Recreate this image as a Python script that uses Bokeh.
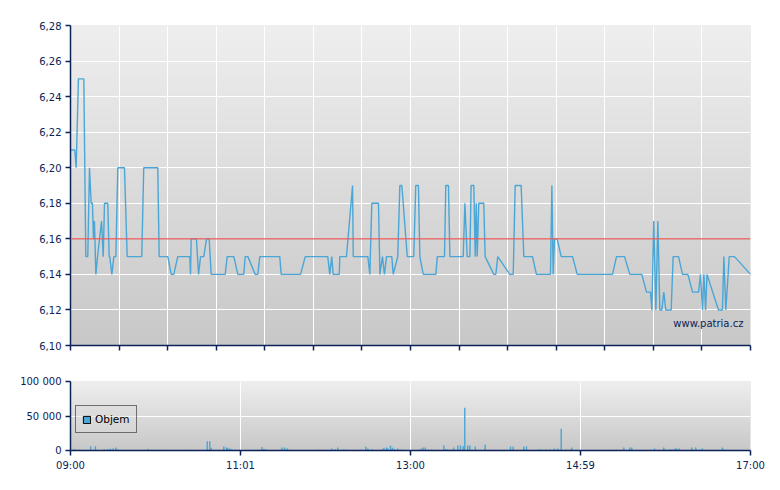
import numpy as np
from bokeh.plotting import figure
from bokeh.models import Range1d, FixedTicker, Span, Label, Legend, LegendItem
from bokeh.layouts import column
from bokeh.embed import file_html
from bokeh.resources import INLINE

# ---- data (minutes after 09:00) ----
price_minute = [0, 3, 4, 5.6, 9.4, 10.8, 12.2, 13.4, 14.6, 15.5, 16.2, 16.9, 17.9, 19.1, 21.9, 23.1,
                24.0, 26.3, 27.3, 27.7, 29.2, 30.6, 32.0, 33.4, 38.1, 40.0, 50.3, 51.7, 61.6, 62.6,
                68.7, 71.1, 72.9, 75.7, 84.2, 84.7, 85.2, 88.9, 90.4, 91.8, 94.1, 96.0, 97.9, 99.3,
                109.2, 110.6, 115.3, 118.1, 122.3, 123.3, 125.2, 130.4, 132.2, 133.6, 147.7, 148.7,
                162.4, 165.7, 181.6, 183.0, 184.4, 185.4, 189.7, 190.1, 194.8, 199.1, 199.6, 209.9,
                211.3, 212.7, 217.4, 218.4, 220.2, 221.6, 223.1, 226.8, 227.8, 231.0, 232.5, 233.9,
                237.7, 242.3, 243.7, 245.6, 246.6, 249.0, 257.9, 258.9, 264.0, 264.9, 266.8, 267.8,
                277.2, 278.4, 280.0, 281.9, 282.8, 284.7, 285.7, 286.4, 287.1, 288.2, 291.7, 292.7,
                298.8, 300.2, 301.6, 310.1, 312.5, 313.9, 318.1, 320.0, 326.1, 328.9, 338.8, 339.8,
                340.7, 341.6, 343.5, 346.4, 354.4, 357.7, 382.6, 385.4, 391.1, 394.8, 403.3, 406.6,
                409.4, 410.4, 411.7, 413.2, 414.6, 416.0, 417.4, 418.8, 420.2, 424.0, 425.4, 429.2,
                432.0, 435.8, 439.1, 443.3, 444.7, 446.1, 447.1, 448.3, 449.3, 457.4, 460.2, 461.2,
                462.6, 465.0, 468.7, 480.0]
price_value = [6.21, 6.21, 6.20, 6.25, 6.25, 6.15, 6.15, 6.20, 6.18, 6.18, 6.16, 6.17, 6.14, 6.15, 6.17, 6.15,
               6.18, 6.18, 6.15, 6.15, 6.14, 6.15, 6.15, 6.20, 6.20, 6.15, 6.15, 6.20, 6.20, 6.15,
               6.15, 6.14, 6.14, 6.15, 6.15, 6.14, 6.16, 6.16, 6.14, 6.15, 6.15, 6.16, 6.16, 6.14,
               6.14, 6.15, 6.15, 6.14, 6.14, 6.15, 6.15, 6.14, 6.14, 6.15, 6.15, 6.14,
               6.14, 6.15, 6.15, 6.14, 6.15, 6.14, 6.14, 6.15, 6.15, 6.19, 6.15, 6.15,
               6.14, 6.18, 6.18, 6.14, 6.15, 6.14, 6.15, 6.15, 6.14, 6.15, 6.19, 6.19,
               6.15, 6.15, 6.19, 6.19, 6.15, 6.14, 6.14, 6.15, 6.15, 6.19, 6.19, 6.15,
               6.15, 6.18, 6.15, 6.15, 6.19, 6.19, 6.15, 6.18, 6.15, 6.18, 6.18, 6.15,
               6.14, 6.14, 6.15, 6.14, 6.14, 6.19, 6.19, 6.15, 6.15, 6.14, 6.14, 6.19,
               6.14, 6.16, 6.16, 6.15, 6.15, 6.14, 6.14, 6.15, 6.15, 6.14, 6.14, 6.13,
               6.13, 6.12, 6.17, 6.12, 6.17, 6.12, 6.12, 6.13, 6.12, 6.12, 6.15, 6.15,
               6.14, 6.14, 6.13, 6.13, 6.14, 6.12, 6.14, 6.12, 6.14, 6.12, 6.12, 6.15,
               6.12, 6.15, 6.15, 6.14]

vol_minute = [2.1, 3.5, 6.4, 14.3, 17.6, 24.0, 26.3, 28.2, 30.1, 32.0, 33.4, 54.6, 56.5, 61.6, 68.7,
              83.8, 96.5, 98.3, 99.3, 108.2, 110.1, 111.0, 112.4, 113.9, 116.3, 119.1, 121.9, 129.9,
              132.2, 135.0, 136.4, 137.9, 149.2, 151.1, 153.0, 154.4, 163.3, 175.1, 179.8, 184.4,
              186.8, 188.7, 192.9, 194.8, 200.5, 204.7, 208.4, 209.9, 212.7, 219.7, 221.2, 223.1,
              224.0, 225.9, 227.3, 228.7, 231.0, 233.9, 245.6, 247.6, 249.0, 250.4, 252.2, 255.0,
              257.9, 263.5, 264.9, 266.3, 269.2, 270.6, 273.4, 275.3, 277.2, 278.3, 280.4, 281.9,
              285.7, 292.7, 300.2, 310.6, 312.5, 320.0, 321.9, 330.4, 331.8, 335.5, 338.3, 341.6,
              344.0, 346.4, 349.6, 352.5, 353.9, 382.6, 385.4, 389.2, 390.6, 394.8, 396.2, 412.2,
              418.8, 420.2, 422.6, 424.0, 425.4, 426.9, 427.8, 429.7, 438.6, 441.4, 444.7, 446.1,
              460.2, 461.2]
vol_value = [1500, 1500, 1200, 6200, 6200, 1500, 2000, 2500, 2800, 4500, 1500, 2000, 1000, 1000, 1000,
             1000, 13500, 13500, 4000, 5800, 4800, 3800, 2900, 1900, 1000, 1000, 800, 1200,
             1200, 5000, 2000, 2000, 4500, 4500, 3000, 1000, 800, 1000, 1000, 3000,
             1800, 4500, 1500, 1500, 1000, 1200, 5500, 3000, 1800, 1800, 3500, 4500,
             3000, 7000, 4000, 2000, 3000, 1500, 1200, 3000, 4300, 4300, 1500, 1500,
             1200, 7200, 2000, 1500, 1500, 4300, 7200, 7200, 6200, 62000, 7200, 7200,
             5800, 8700, 1200, 5800, 5800, 5800, 5800, 1500, 1500, 1500, 1500, 3000,
             3000, 31700, 1200, 1200, 4300, 1000, 1000, 1000, 4300, 4300, 4300, 3000,
             4300, 1200, 1500, 1500, 1500, 3000, 3000, 3000, 4300, 4300, 1200, 3000,
             4300, 1200]

reference_price = 6.16
x_tick_minutes = [0, 120, 240, 360, 480]
x_tick_labels = ["09:00", "11:01", "13:00", "14:59", "17:00"]
price_ticks = [6.10, 6.12, 6.14, 6.16, 6.18, 6.20, 6.22, 6.24, 6.26, 6.28]
price_tick_labels = ["6,10", "6,12", "6,14", "6,16", "6,18", "6,20", "6,22", "6,24", "6,26", "6,28"]
vol_ticks = [0, 50000, 100000]
vol_tick_labels = ["0", "50 000", "100 000"]
watermark = "www.patria.cz"
legend_label = "Objem"

NAVY = "#0B2356"
LINE = "#4AA6D6"
FONT = "DejaVu Sans"

X0, X1 = 0, 480
P0, P1 = 6.10, 6.28
V0, V1 = 0, 100000


def gradient(n=256, top=239, bottom=200):
    vals = np.linspace(bottom, top, n).astype(np.uint32)
    img = np.zeros((n, 1), dtype=np.uint32)
    view = img.view(dtype=np.uint8).reshape((n, 1, 4))
    view[:, 0, 0] = vals
    view[:, 0, 1] = vals
    view[:, 0, 2] = vals
    view[:, 0, 3] = 255
    return img


def style(p):
    p.outline_line_color = None
    p.border_fill_color = "white"
    p.background_fill_color = "#DCDCDC"
    for ax in (p.xaxis, p.yaxis):
        ax.axis_line_color = NAVY
        ax.axis_line_width = 1.5
        ax.major_tick_line_color = NAVY
        ax.major_tick_line_width = 1.5
        ax.major_tick_in = 0
        ax.major_tick_out = 5
        ax.minor_tick_line_color = None
        ax.major_label_text_font = FONT
        ax.major_label_text_font_size = "10px"
        ax.major_label_text_color = NAVY
    p.grid.grid_line_color = "white"
    p.grid.grid_line_width = 1


W = 772
# ---- price chart ----
p1 = figure(width=W, height=355, output_backend="svg", toolbar_location=None,
            x_range=Range1d(X0, X1), y_range=Range1d(P0, P1),
            min_border_left=70, min_border_right=22, min_border_top=25, min_border_bottom=10)
style(p1)
img1 = p1.image_rgba(image=[gradient()], x=X0, y=P0, dw=X1 - X0, dh=P1 - P0)
img1.level = "image"
main_ticks = [X0 + i * (X1 - X0) / 14 for i in range(15)]
p1.xaxis.ticker = FixedTicker(ticks=main_ticks)
p1.xgrid.ticker = FixedTicker(ticks=main_ticks)
p1.xaxis.major_label_overrides = {t: "" for t in main_ticks}
p1.xaxis.major_label_standoff = 0
p1.yaxis.ticker = FixedTicker(ticks=price_ticks)
p1.ygrid.ticker = FixedTicker(ticks=price_ticks)
p1.yaxis.major_label_overrides = {t: l for t, l in zip(price_ticks, price_tick_labels)}
p1.yaxis.major_label_standoff = 4

p1.add_layout(Span(location=reference_price, dimension="width", line_color="#E85A5A",
                   line_width=1.5, line_alpha=0.85))
p1.line(price_minute, price_value, line_color=LINE, line_width=1.4)
p1.add_layout(Label(x=475, y=6.1124, text=watermark, text_align="right", text_baseline="middle",
                    text_font=FONT, text_font_size="10px", text_color=NAVY))

# ---- volume chart ----
p2 = figure(width=W, height=128, output_backend="svg", toolbar_location=None,
            x_range=Range1d(X0, X1), y_range=Range1d(V0, V1),
            min_border_left=70, min_border_right=22, min_border_top=26, min_border_bottom=33)
style(p2)
img2 = p2.image_rgba(image=[gradient()], x=X0, y=V0, dw=X1 - X0, dh=V1 - V0)
img2.level = "image"
p2.xaxis.ticker = FixedTicker(ticks=x_tick_minutes)
p2.xgrid.ticker = FixedTicker(ticks=x_tick_minutes)
p2.xaxis.major_label_overrides = {t: l for t, l in zip(x_tick_minutes, x_tick_labels)}
p2.xaxis.major_label_standoff = 4
p2.yaxis.ticker = FixedTicker(ticks=vol_ticks)
p2.ygrid.ticker = FixedTicker(ticks=vol_ticks)
p2.yaxis.major_label_overrides = {t: l for t, l in zip(vol_ticks, vol_tick_labels)}
p2.yaxis.major_label_standoff = 4

p2.vbar(x=vol_minute, top=vol_value, bottom=0, width=1.0, fill_color=LINE, line_color=None)
# legend swatch: same bars with a dark outline, hidden on the chart itself
leg_r = p2.vbar(x=vol_minute, top=vol_value, bottom=0, width=1.0, fill_color=LINE,
                line_color="black", line_width=1, visible=False)
legend = Legend(items=[LegendItem(label=legend_label, renderers=[leg_r])],
                location=(5, 17), border_line_color="black", border_line_width=1,
                background_fill_color="#DCDCDC", background_fill_alpha=0.4,
                inactive_fill_alpha=0.0, click_policy="none",
                label_text_font=FONT, label_text_font_size="10.5px", label_text_color="black",
                glyph_width=9, glyph_height=9, padding=6, margin=0, label_standoff=4,
                label_height=14)
p2.add_layout(legend)

layout = column(p1, p2, spacing=0)
open("out.html", "w").write(file_html(layout, INLINE))
